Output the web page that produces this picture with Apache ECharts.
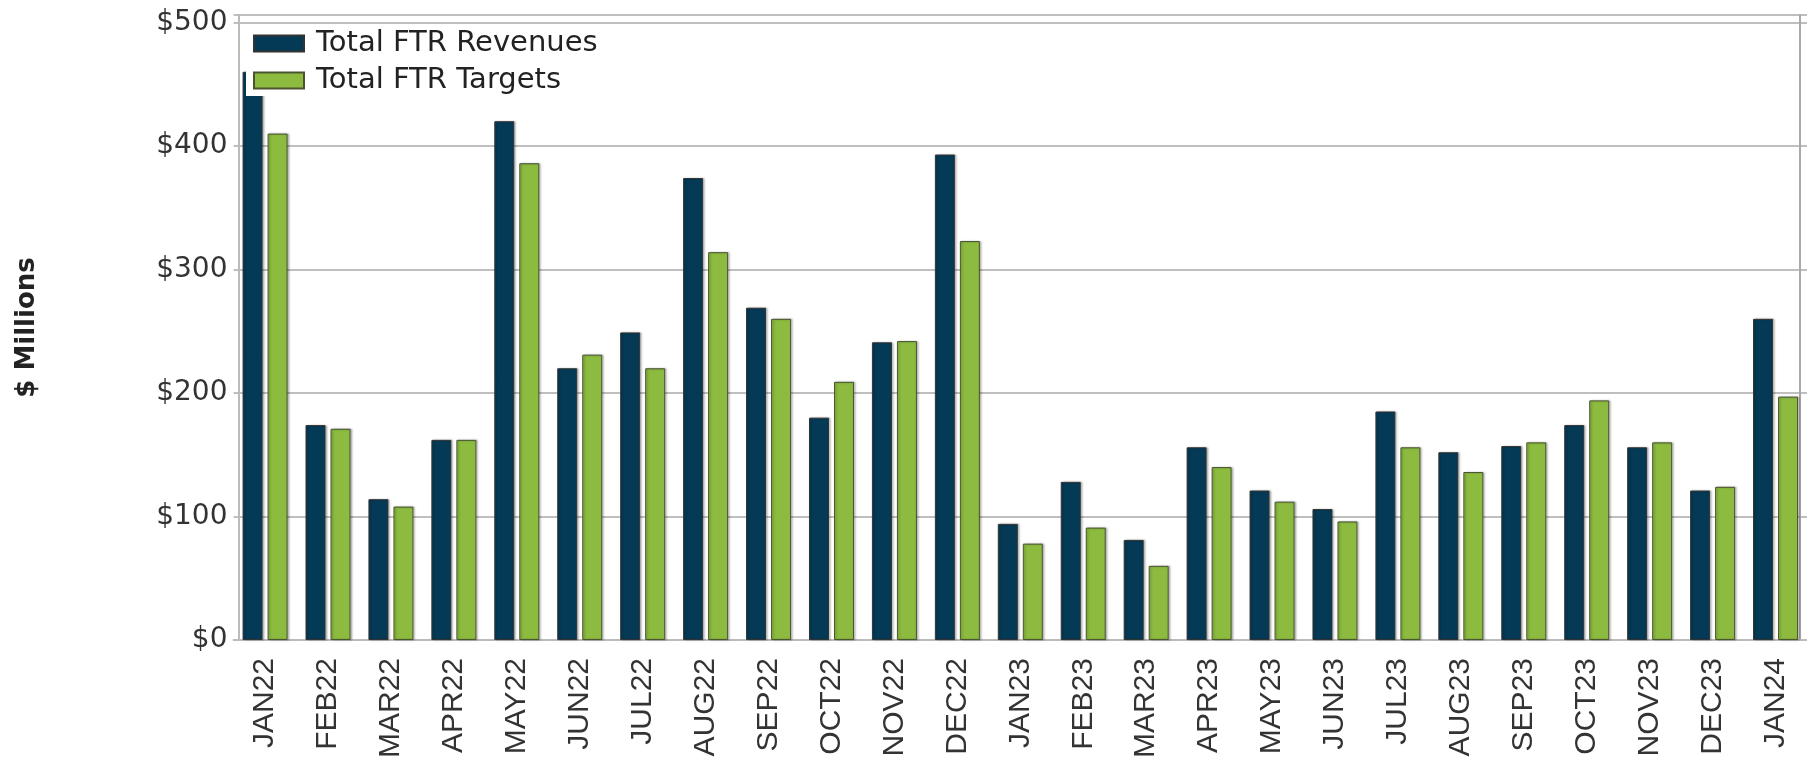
<!DOCTYPE html>
<html>
<head>
<meta charset="utf-8">
<script src="https://cdn.jsdelivr.net/npm/echarts@6/dist/echarts.min.js"></script>
<style>
  html, body { margin: 0; padding: 0; background: #fff; }
  #chart { width: 1807px; height: 764px; }
</style>
</head>
<body>
<div id="chart"></div>
<script>
const categories = ['JAN22','FEB22','MAR22','APR22','MAY22','JUN22','JUL22','AUG22','SEP22','OCT22','NOV22','DEC22',
  'JAN23','FEB23','MAR23','APR23','MAY23','JUN23','JUL23','AUG23','SEP23','OCT23','NOV23','DEC23','JAN24'];
const revenues = [460, 174, 114, 162, 420, 220, 249, 374, 269, 180, 241, 393,
  94, 128, 81, 156, 121, 106, 185, 152, 157, 174, 156, 121, 260];
const targets = [410, 171, 108, 162, 386, 231, 220, 314, 260, 209, 242, 323,
  78, 91, 60, 140, 112, 96, 156, 136, 160, 194, 160, 124, 197];
const seriesNames = ['Total FTR Revenues', 'Total FTR Targets'];
const yTicks = [0, 100, 200, 300, 400, 500];

const chart = echarts.init(document.getElementById('chart'), null, { renderer: 'canvas' });
const font = 'DejaVu Sans';
chart.setOption({
  animation: false,
  backgroundColor: '#ffffff',
  grid: { left: 233.6, right: -2.3, top: 15, bottom: 124, containLabel: false },
  legend: {
    orient: 'vertical',
    left: 246, top: 24,
    backgroundColor: '#ffffff',
    padding: [5, 12, 1, 7],
    itemGap: 8,
    itemWidth: 50,
    itemHeight: 16,
    icon: 'rect',
    textStyle: { fontFamily: font, fontSize: 29, color: '#222', padding: [0, 0, 0, 7] },
    data: seriesNames
  },
  xAxis: {
    type: 'category',
    data: categories,
    boundaryGap: true,
    axisLine: { show: true, lineStyle: { color: '#bbbbbb', width: 2 } },
    axisTick: { show: false },
    axisLabel: { rotate: 90, margin: 18, fontFamily: 'Liberation Sans', fontSize: 30, color: '#333', interval: 0 },
    splitLine: { show: false }
  },
  yAxis: [{
    type: 'value',
    min: 0, max: 506, interval: 100,
    offset: -4.9,
    name: '$ Millions',
    nameLocation: 'middle',
    nameGap: 198,
    nameRotate: 90,
    nameTextStyle: { fontFamily: font, fontSize: 26, fontWeight: 'bold', color: '#222' },
    axisLine: { show: true, lineStyle: { color: '#bbbbbb', width: 2 } },
    axisTick: { show: false },
    axisLabel: {
      margin: 11, fontFamily: font, fontSize: 28, color: '#333',
      formatter: function (v) { return yTicks.indexOf(v) >= 0 ? '$' + v : ''; }
    },
    splitLine: { show: true, lineStyle: { color: '#aaaaaa', width: 1.5 } }
  }, {
    type: 'value',
    position: 'right',
    min: 0, max: 506, interval: 100,
    offset: -7.3,
    axisLine: { show: true, lineStyle: { color: '#aaaaaa', width: 2 } },
    axisTick: { show: false },
    axisLabel: { show: false },
    splitLine: { show: false }
  }],
  series: [{
    name: seriesNames[0],
    type: 'bar',
    data: revenues,
    barWidth: 20,
    barGap: '25%',
    itemStyle: { color: '#053a57', borderColor: '#333333', borderWidth: 1,
      shadowColor: 'rgba(0,0,0,0.25)', shadowBlur: 2, shadowOffsetX: 1.5 }
  }, {
    name: seriesNames[1],
    type: 'bar',
    data: targets,
    barWidth: 20,
    barGap: '25%',
    itemStyle: { color: '#8cbb40', borderColor: '#4a5530', borderWidth: 1,
      shadowColor: 'rgba(0,0,0,0.25)', shadowBlur: 2, shadowOffsetX: 1.5 }
  }]
});
</script>
</body>
</html>
